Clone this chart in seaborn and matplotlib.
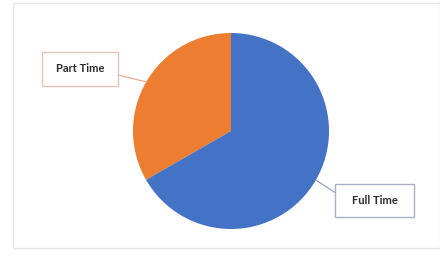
import numpy as np
import matplotlib
matplotlib.use("Agg")
import matplotlib.pyplot as plt
import seaborn as sns
from matplotlib.patches import Rectangle

categories = ["Part Time", "Full Time"]
values = [33.3, 66.7]
colors = ["#ED7D31", "#4472C4"]

sns.set_theme(style="white")
plt.rcParams['font.family'] = ['Lato', 'DejaVu Sans']

W, H = 440, 259
fig = plt.figure(figsize=(W / 100, H / 100), dpi=100)
fig.patch.set_facecolor("white")

# outer chart frame
fig.patches.append(Rectangle((13 / W, (H - 248) / H), (440 - 13) / W, (248 - 3) / H,
                             transform=fig.transFigure, fill=False,
                             edgecolor="#E6E6E6", linewidth=1.0))

cx, cy, r = 231, 131, 98
ax = fig.add_axes([(cx - r) / W, (H - cy - r) / H, 2 * r / W, 2 * r / H])
wedges, _ = ax.pie(values, colors=colors, startangle=90, counterclock=True,
                   radius=1.0, wedgeprops=dict(linewidth=0))
ax.set_xlim(-1, 1)
ax.set_ylim(-1, 1)
ax.axis("off")

boxes = {
    "Part Time": dict(box=(42, 52, 118, 86), edge="#E3C3B3", line="#E8A58A"),
    "Full Time": dict(box=(335, 184, 414, 217), edge="#A9AFC6", line="#8C9BC4"),
}

for w, lab in zip(wedges, categories):
    mid = np.deg2rad((w.theta1 + w.theta2) / 2)
    px, py = np.cos(mid), np.sin(mid)
    x0, y0, x1, y1 = boxes[lab]["box"]
    fig.patches.append(Rectangle((x0 / W, (H - y1) / H), (x1 - x0) / W, (y1 - y0) / H,
                                 transform=fig.transFigure, facecolor="white",
                                 edgecolor=boxes[lab]["edge"], linewidth=1.0, zorder=3))
    fig.text((x0 + x1) / 2 / W, (H - (y0 + y1) / 2) / H, lab, ha="center", va="center",
             fontsize=8, fontweight="bold", color="#2B2B2B", zorder=4)
    # leader line from wedge edge to box
    if px < 0:
        bx, by = x1, (y0 + y1) / 2 + 6
    else:
        bx, by = x0, (y0 + y1) / 2 - 8
    ax.annotate("", xy=(px, py), xycoords="data",
                xytext=(bx / W, (H - by) / H), textcoords="figure fraction",
                arrowprops=dict(arrowstyle="-", color=boxes[lab]["line"], lw=0.8,
                                shrinkA=0, shrinkB=0))

fig.savefig("out.png", dpi=100, facecolor="white")
